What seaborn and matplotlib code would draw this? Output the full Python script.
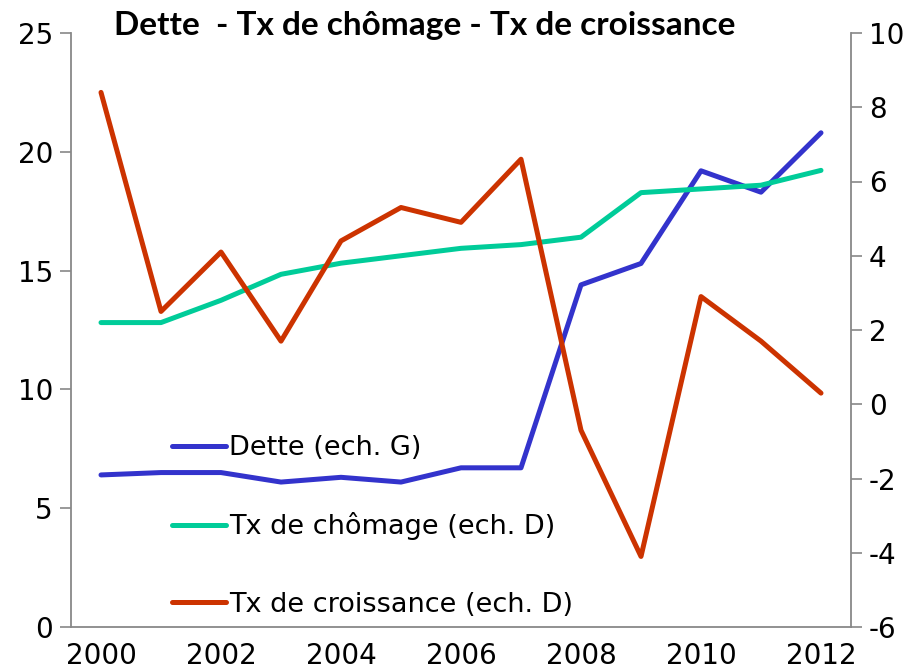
import numpy as np
import pandas as pd
import matplotlib
matplotlib.use("Agg")
import matplotlib.pyplot as plt
import seaborn as sns

years = [2000, 2001, 2002, 2003, 2004, 2005, 2006, 2007, 2008, 2009, 2010, 2011, 2012]
dette = [6.4, 6.5, 6.5, 6.1, 6.3, 6.1, 6.7, 6.7, 14.4, 15.3, 19.2, 18.3, 20.8]
chomage = [2.2, 2.2, 2.8, 3.5, 3.8, 4.0, 4.2, 4.3, 4.5, 5.7, 5.8, 5.9, 6.3]
croissance = [8.4, 2.5, 4.1, 1.7, 4.4, 5.3, 4.9, 6.6, -0.7, -4.1, 2.9, 1.7, 0.3]
tick_labels = ["2000", "2002", "2004", "2006", "2008", "2010", "2012"]

sns.set_style("white")
plt.rcParams["font.family"] = ["DejaVu Sans"]
plt.rcParams["axes.unicode_minus"] = False
plt.rcParams["text.color"] = "black"
plt.rcParams["xtick.color"] = "black"
plt.rcParams["ytick.color"] = "black"

df = pd.DataFrame({"pos": np.arange(len(years)), "dette": dette,
                   "chomage": chomage, "croissance": croissance})

fig = plt.figure(figsize=(9.12, 6.72), dpi=100)
ax = fig.add_axes([71/912, 1 - 627/672, (851-71)/912, (627-33)/672])
ax2 = ax.twinx()

c_dette = "#3333CC"
c_chom = "#00CC99"
c_crois = "#CC3300"
lw = 3.6

sns.lineplot(data=df, x="pos", y="dette", ax=ax, color=c_dette, lw=lw,
             label="Dette (ech. G)", legend=False)
sns.lineplot(data=df, x="pos", y="chomage", ax=ax2, color=c_chom, lw=lw,
             label="Tx de chômage (ech. D)", legend=False)
sns.lineplot(data=df, x="pos", y="croissance", ax=ax2, color=c_crois, lw=lw,
             label="Tx de croissance (ech. D)", legend=False)

n = len(years)
ax.set_xlim(-0.5, n - 0.5)
ax.set_ylim(0, 25)
ax2.set_ylim(-6, 10)
ax.set_yticks([0, 5, 10, 15, 20, 25])
ax2.set_yticks([-6, -4, -2, 0, 2, 4, 6, 8, 10])

ax.set_xticks(np.arange(-0.5, n, 1.0))
ax.set_xticklabels([])
ax.set_xticks(np.arange(0, n, 2), minor=True)
ax.set_xticklabels(tick_labels, minor=True)
ax.tick_params(axis="x", which="major", length=7, width=1.2, color="#888888", direction="out")
ax.tick_params(axis="x", which="minor", length=0, labelsize=20, pad=11, labelcolor="black")
ax.tick_params(axis="y", length=8, width=1.2, color="#888888", direction="out", labelsize=20, pad=5, labelcolor="black")
ax2.tick_params(axis="y", length=8, width=1.2, color="#888888", direction="out", labelsize=20, pad=5, labelcolor="black")

ax.set_xlabel("")
ax.set_ylabel("")
ax2.set_ylabel("")

for a in (ax, ax2):
    a.spines["top"].set_visible(False)
    for s in ["left", "right", "bottom"]:
        a.spines[s].set_color("#888888")
        a.spines[s].set_linewidth(1.3)
ax2.spines["left"].set_visible(False)
ax2.spines["bottom"].set_visible(False)
ax.spines["right"].set_visible(False)

fig.text(425/912, 1 - 25/672, "Dette  - Tx de chômage - Tx de croissance",
         ha="center", va="center", fontsize=24, fontweight="bold", family="Lato",
         color="black")

h1, l1 = ax.get_legend_handles_labels()
h2, l2 = ax2.get_legend_handles_labels()
leg = ax2.legend(h1 + h2, l1 + l2, loc="upper left",
                 bbox_to_anchor=(172/912, 1 - 435/672), bbox_transform=fig.transFigure,
                 frameon=False, fontsize=19.5, handlelength=2.0, handletextpad=0.1,
                 labelspacing=1.9, borderpad=0, borderaxespad=0, labelcolor="black")

fig.savefig("out.png", dpi=100)
